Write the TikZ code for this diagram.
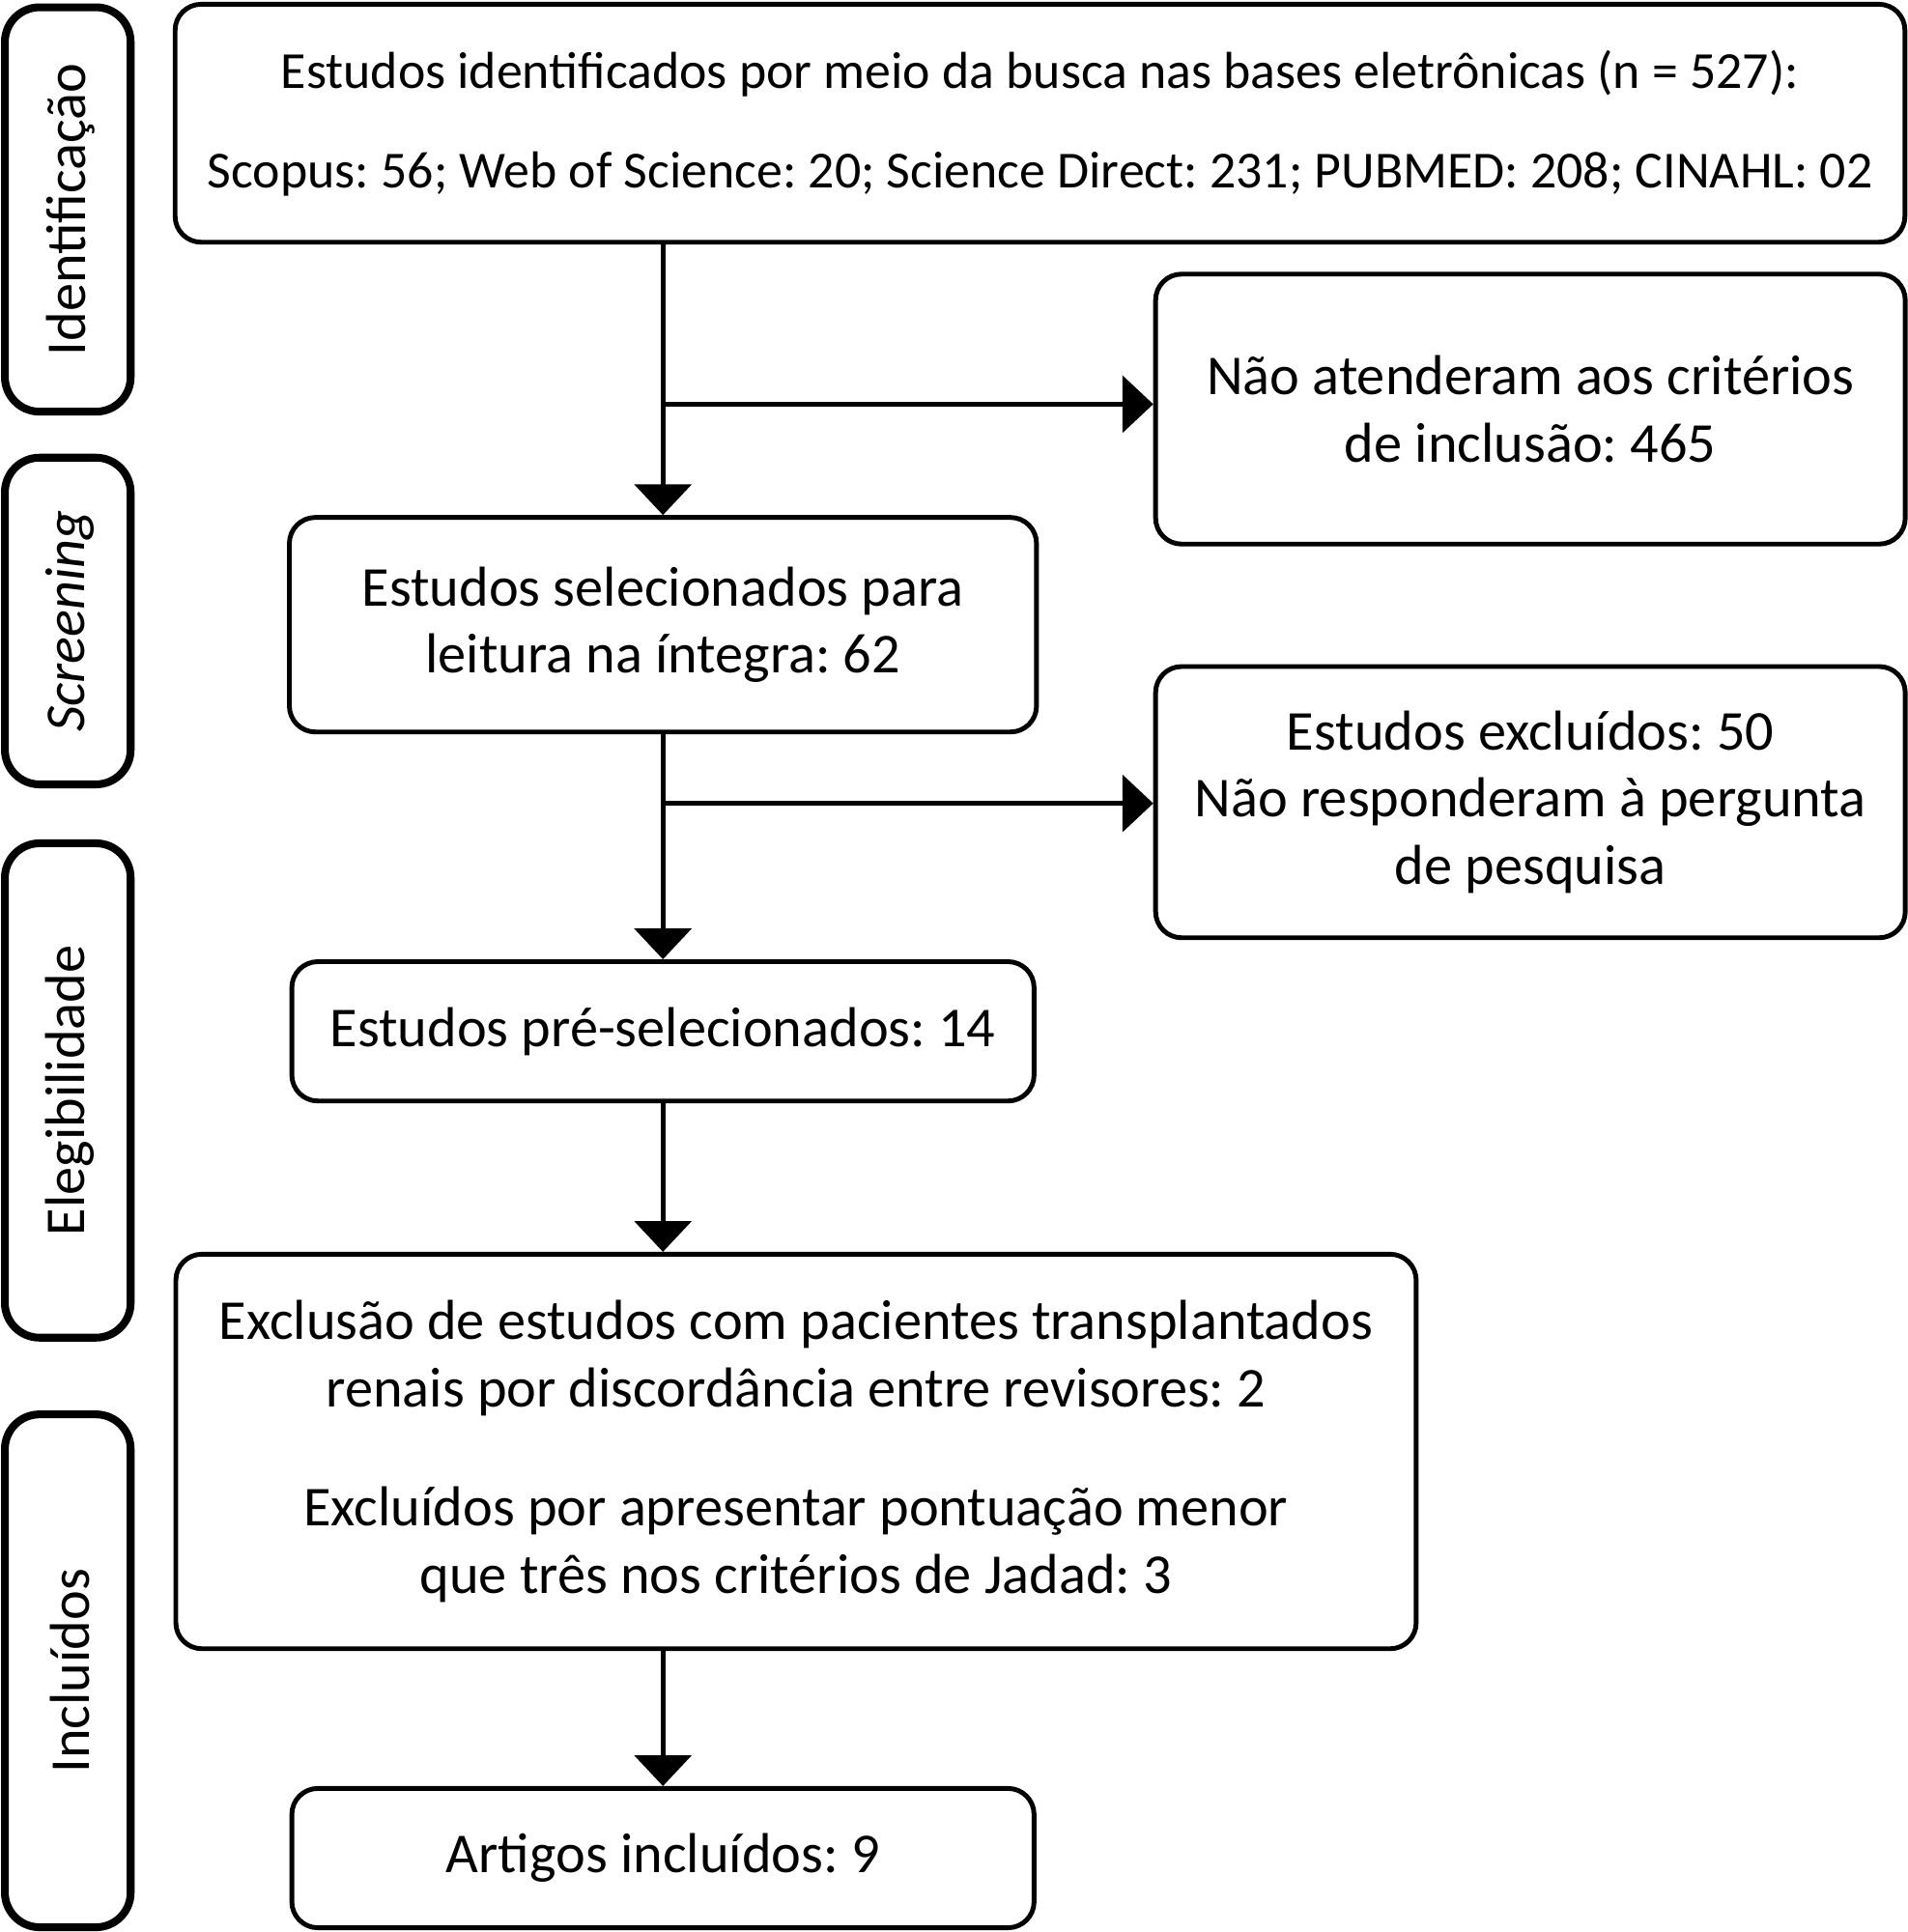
\documentclass[tikz,border=0pt]{standalone}
\usepackage{fontspec}
\setmainfont{Carlito}
\frenchspacing
\usetikzlibrary{arrows.meta}

\begin{document}
\begin{tikzpicture}[x=0.01cm, y=-0.01cm, line width=1.1pt,
    caixa/.style={draw, rounded corners=6pt, align=center, inner sep=0pt,
                  font=\fontsize{13}{15.5}\selectfont},
    fase/.style={draw, rounded corners=8pt, line width=1.8pt, inner sep=0pt,
                 minimum width=1.02cm},
    rotulo/.style={rotate=90, font=\fontsize{13}{15}\selectfont},
    seta/.style={-{Triangle[width=0.46cm,length=0.25cm]}}]

\useasboundingbox (0,0) rectangle (1548,1568);

% fases
\node[fase, minimum height=3.28cm] (F1) at (55,170) {};
\node[fase, minimum height=2.65cm] (F2) at (55,504) {};
\node[fase, minimum height=4.01cm] (F3) at (55,885) {};
\node[fase, minimum height=4.16cm] (F4) at (55,1356) {};
\node[rotulo] (R1) at (57,170) {Identificação};
\node[rotulo] (R2) at (57,504) {\itshape Screening};
\node[rotulo] (R3) at (57,885) {Elegibilidade};
\node[rotulo] (R4) at (57,1356) {Incluídos};

% caixas
\node[caixa, minimum width=14.03cm, minimum height=1.93cm,
      font=\fontsize{12}{14}\selectfont] (B1) at (844,100)
  {Estudos identificados por meio da busca nas bases eletrônicas (n = 527):\\[9pt]
   Scopus: 56; Web of Science: 20; Science Direct: 231; PUBMED: 208; CINAHL: 02};
\node[caixa, minimum width=6.08cm, minimum height=2.19cm] (B2) at (1242,332)
  {Não atenderam aos critérios\\de inclusão: 465};
\node[caixa, minimum width=6.06cm, minimum height=1.74cm] (B3) at (538,507)
  {Estudos selecionados para\\leitura na íntegra: 62};
\node[caixa, minimum width=6.08cm, minimum height=2.2cm] (B4) at (1242,651)
  {Estudos excluídos: 50\\Não responderam à pergunta\\de pesquisa};
\node[caixa, minimum width=6.02cm, minimum height=1.13cm] (B5) at (538,837)
  {Estudos pré-selecionados: 14};
\node[caixa, minimum width=10.06cm, minimum height=3.2cm] (B6) at (646,1178)
  {Exclusão de estudos com pacientes transplantados\\renais por discordância entre revisores: 2\\[12pt]
   Excluídos por apresentar pontuação menor\\que três nos critérios de Jadad: 3};
\node[caixa, minimum width=6.02cm, minimum height=1.13cm] (B7) at (538,1508)
  {Artigos incluídos: 9};

% conexões
\coordinate (J1) at (538,328);
\coordinate (J2) at (538,652);
\draw[seta] (B1.south -| B3) -- (B3.north);
\draw[seta] (J1) -- (B2.west |- J1);
\draw[seta] (B3) -- (B5);
\draw[seta] (J2) -- (B4.west |- J2);
\draw[seta] (B5) -- (B6.north -| B5);
\draw[seta] (B6.south -| B7) -- (B7);
\end{tikzpicture}
\end{document}
